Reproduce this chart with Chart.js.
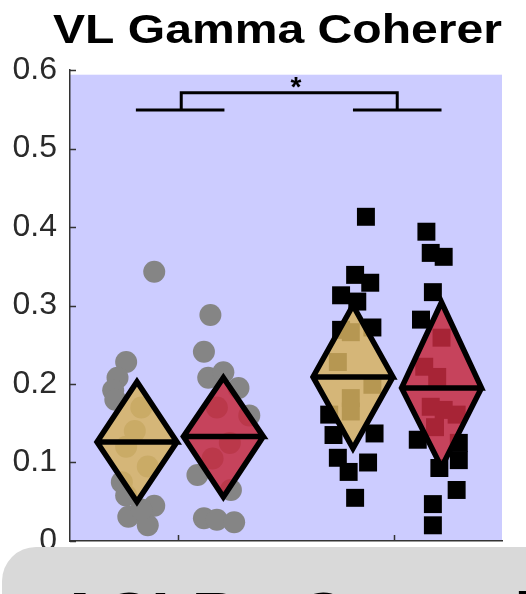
<!DOCTYPE html>
<html>
<head>
<meta charset="utf-8">
<style>
	html, body { margin: 0; padding: 0; background: #fff; }
	#wrap { width: 526px; height: 594px; }
</style>
<script src="https://cdn.jsdelivr.net/npm/chart.js@4.4.1/dist/chart.umd.min.js"></script>
</head>
<body>
<div id="wrap"><canvas id="c" width="526" height="594"></canvas></div>
<script>
const titleText  = 'VL Gamma Coherer';
const sigText    = '*';
const footerText = 'ACLR - Control';

const yTickValues = [0, 0.1, 0.2, 0.3, 0.4, 0.5, 0.6];
const xTickValues = [1, 2];

// diamonds: x centre, mean, lower and upper bound
const diamondX    = [0.81, 1.21, 1.81, 2.22];
const diamondMean = [0.126, 0.133, 0.209, 0.195];
const diamondLow  = [0.050, 0.056, 0.118, 0.094];
const diamondHigh = [0.203, 0.208, 0.300, 0.304];

// individual subjects [x jitter, value]
const ctrlA = [[0.89,0.343],[0.76,0.228],[0.72,0.208],[0.70,0.192],[0.71,0.180],[0.83,0.170],[0.80,0.140],
	[0.76,0.120],[0.86,0.095],[0.74,0.075],[0.76,0.058],[0.89,0.045],[0.77,0.031],[0.86,0.020],[0.83,0.040]];
const ctrlB = [[1.15,0.288],[1.12,0.241],[1.14,0.208],[1.21,0.215],[1.28,0.195],[1.33,0.160],[1.18,0.170],
	[1.24,0.125],[1.16,0.105],[1.09,0.084],[1.245,0.065],[1.12,0.029],[1.18,0.027],[1.26,0.024]];
const aclrA = [[1.87,0.413],[1.82,0.339],[1.89,0.329],[1.755,0.313],[1.83,0.305],[1.90,0.272],[1.755,0.269],
	[1.80,0.266],[1.74,0.228],[1.90,0.199],[1.80,0.182],[1.80,0.165],[1.70,0.161],[1.72,0.135],[1.91,0.137],
	[1.74,0.106],[1.88,0.100],[1.79,0.088],[1.82,0.055]];
const aclrB = [[2.15,0.394],[2.17,0.367],[2.23,0.362],[2.18,0.317],[2.125,0.282],[2.22,0.259],[2.14,0.222],
	[2.20,0.209],[2.17,0.171],[2.23,0.167],[2.29,0.161],[2.19,0.145],[2.11,0.129],[2.30,0.125],[2.30,0.103],
	[2.21,0.093],[2.29,0.065],[2.18,0.047],[2.18,0.020]];

// significance bracket
const bracketLeft  = [[0.805,0.549],[1.215,0.549]];
const bracketRight = [[1.81,0.549],[2.22,0.549]];
const bracketTop   = [[1.015,0.549],[1.015,0.571],[2.015,0.571],[2.015,0.549]];
const sigPos = [1.546, 0.583];

const FONT = '"Liberation Sans", Arial, sans-serif';
const HALF_W = 0.185;
const fills = ['rgba(214,178,96,0.85)', 'rgba(196,42,64,0.85)', 'rgba(214,178,96,0.85)', 'rgba(196,42,64,0.85)'];

function xy(arr) { return arr.map(p => ({ x: p[0], y: p[1] })); }

// top, right, bottom, left, top, right, left -> outline plus mean line
function diamond(i) {
	let cx = diamondX[i], m = diamondMean[i];
	let top = { x: cx, y: diamondHigh[i] }, bot = { x: cx, y: diamondLow[i] };
	let l = { x: cx - HALF_W, y: m }, r = { x: cx + HALF_W, y: m };
	return [top, r, bot, l, top, r, l];
}

function pts(arr, style) {
	return {
		data: xy(arr),
		pointStyle: style,
		pointRadius: style == 'rect' ? 12.7 : 11,
		pointBackgroundColor: style == 'rect' ? '#000' : '#858585',
		pointBorderWidth: 0,
		order: 2
	};
}

function lineDs(arr, w) {
	return {
		type: 'line', data: xy(arr), borderColor: '#000', borderWidth: w,
		pointRadius: 0, fill: false, tension: 0, order: 3, borderJoinStyle: 'miter'
	};
}

let datasets = [pts(ctrlA, 'circle'), pts(ctrlB, 'circle'), pts(aclrA, 'rect'), pts(aclrB, 'rect')];
for (let i = 0; i < diamondX.length; i++) {
	datasets.push({
		type: 'line', data: diamond(i), fill: 'shape', backgroundColor: fills[i],
		borderColor: '#000', borderWidth: 5.5, borderJoinStyle: 'miter',
		pointRadius: 0, tension: 0, order: 0
	});
}
datasets.push(lineDs(bracketLeft, 3), lineDs(bracketRight, 3), lineDs(bracketTop, 3));

const decor = {
	id: 'decor',
	beforeDraw(chart) {
		const { ctx, chartArea: a, scales: { y } } = chart;
		ctx.save();
		ctx.fillStyle = '#fff';
		ctx.fillRect(0, 0, chart.width, chart.height);
		ctx.fillStyle = '#ccccff';
		let top = y.getPixelForValue(0.594);
		ctx.fillRect(a.left, top, a.right - a.left, a.bottom - top);
		ctx.restore();
	},
	afterDraw(chart) {
		const { ctx, chartArea: a, scales: { x, y } } = chart;
		ctx.save();

		// inward ticks
		ctx.strokeStyle = '#333';
		ctx.lineWidth = 1.5;
		ctx.beginPath();
		yTickValues.forEach(v => {
			let py = Math.round(y.getPixelForValue(v)) + 0.5;
			ctx.moveTo(a.left, py); ctx.lineTo(a.left + 6, py);
		});
		xTickValues.forEach(v => {
			let px = Math.round(x.getPixelForValue(v)) + 0.5;
			ctx.moveTo(px, a.bottom); ctx.lineTo(px, a.bottom - 6);
		});
		ctx.stroke();

		// title
		ctx.fillStyle = '#000';
		ctx.font = 'bold 41px ' + FONT;
		ctx.textBaseline = 'alphabetic';
		ctx.textAlign = 'left';
		let w = ctx.measureText(titleText).width;
		ctx.save();
		ctx.translate(53, 43);
		ctx.scale(449 / w, 1);
		ctx.fillText(titleText, 0, 0);
		ctx.restore();

		// significance star
		ctx.font = 'bold 28px ' + FONT;
		ctx.textAlign = 'center';
		ctx.fillText(sigText, x.getPixelForValue(sigPos[0]), y.getPixelForValue(sigPos[1]) + 13);

		// caption box overlapping the bottom
		ctx.fillStyle = '#d9d9d9';
		ctx.beginPath();
		ctx.roundRect(2, 547, 600, 120, 34);
		ctx.fill();
		ctx.fillStyle = '#000';
		ctx.font = 'bold 66px ' + FONT;
		ctx.textAlign = 'left';
		ctx.fillText(footerText, 56, 639);

		ctx.restore();
	}
};

new Chart(document.getElementById('c'), {
	type: 'scatter',
	data: { datasets: datasets },
	options: {
		responsive: false,
		animation: false,
		events: [],
		layout: { padding: { top: 70, right: 24, left: 0, bottom: 0 } },
		plugins: { legend: { display: false }, tooltip: { enabled: false }, title: { display: false } },
		scales: {
			x: {
				type: 'linear', min: 0.5, max: 2.5,
				afterBuildTicks: s => { s.ticks = xTickValues.map(v => ({ value: v })); },
				afterFit: s => { s.height = 53; },
				ticks: { display: false },
				grid: { drawOnChartArea: false, drawTicks: false },
				border: { color: '#333', width: 1.5 }
			},
			y: {
				min: 0, max: 0.6,
				afterBuildTicks: s => { s.ticks = yTickValues.map(v => ({ value: v })); },
				afterFit: s => { s.width = 70; },
				ticks: { padding: 13, color: '#2a2a2a', font: { family: FONT, size: 32 } },
				grid: { drawOnChartArea: false, drawTicks: false },
				border: { color: '#333', width: 1.5 }
			}
		}
	},
	plugins: [decor]
});
</script>
</body>
</html>
